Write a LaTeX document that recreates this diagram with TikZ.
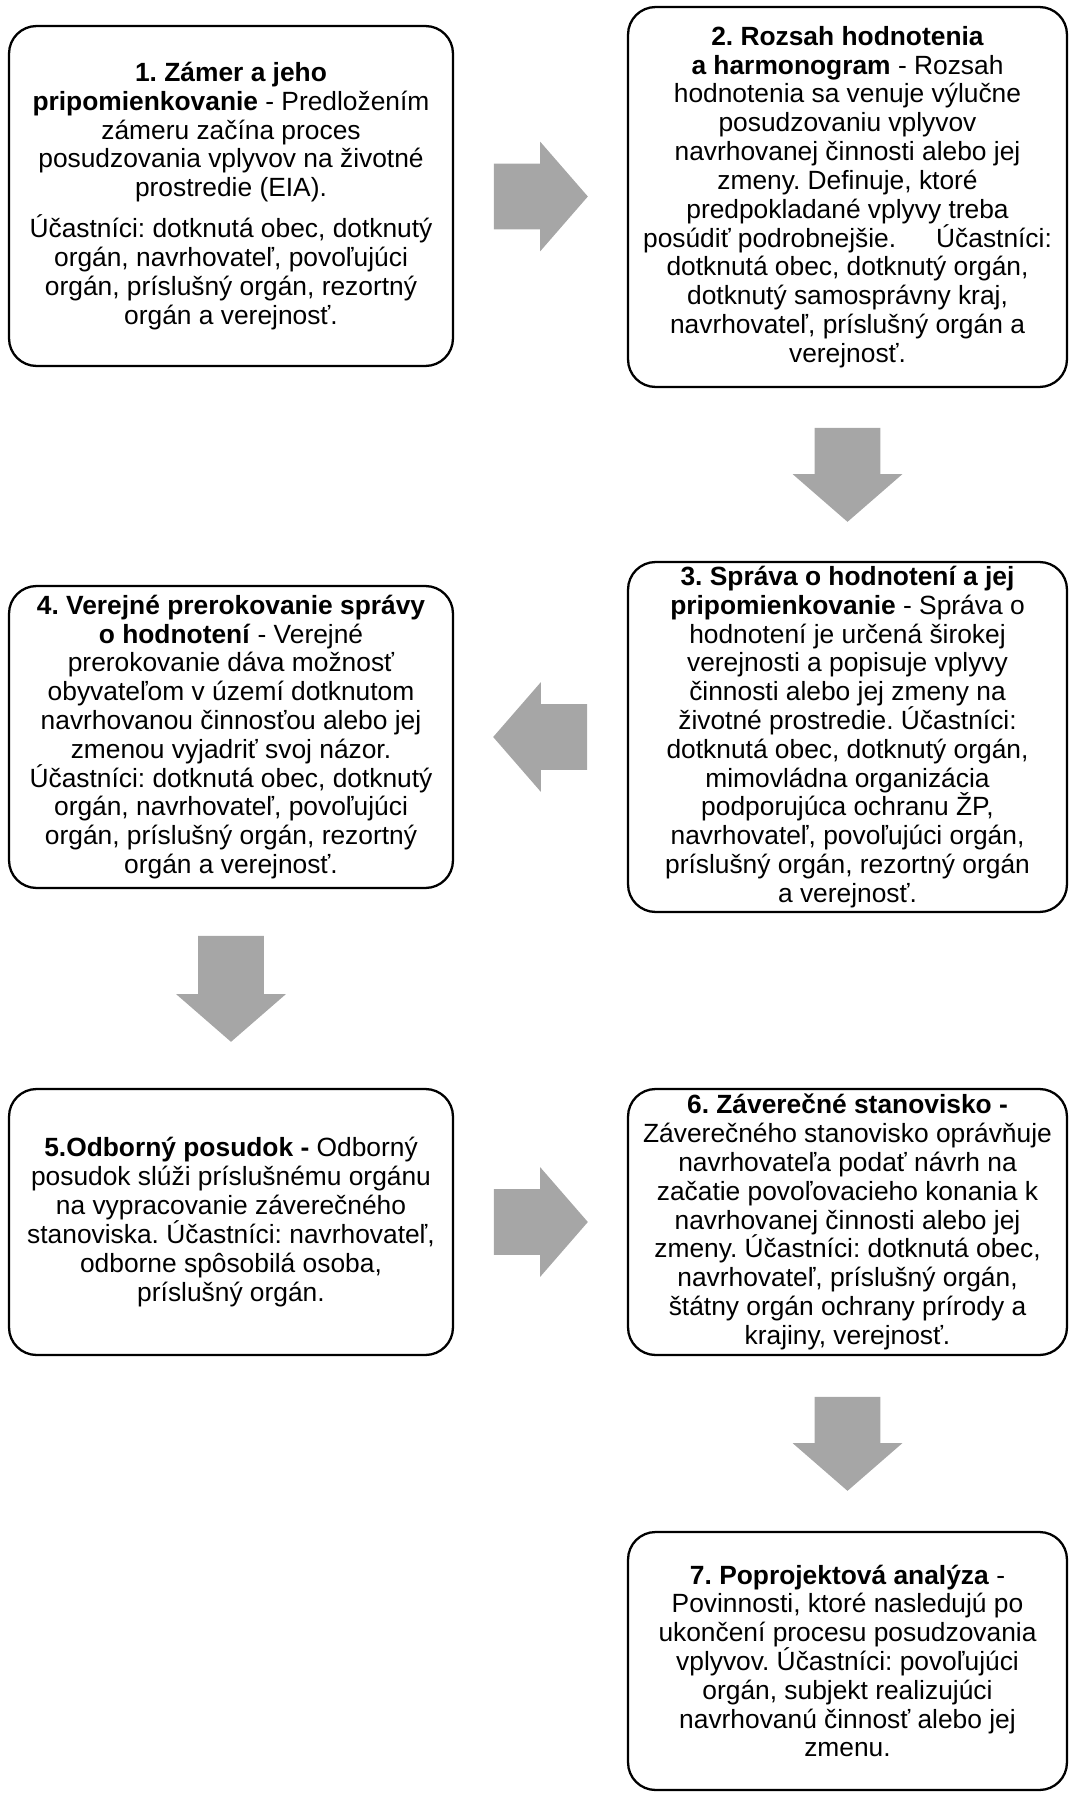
\documentclass[tikz,border=0pt]{standalone}
\usepackage{fontspec}
\setmainfont{Liberation Sans}
\usetikzlibrary{shapes.arrows, calc}

\definecolor{arrowgray}{RGB}{166,166,166}

\begin{document}
\frenchspacing
\begin{tikzpicture}[x = 0.02cm, y = -0.02cm,
	box/.style = {draw, rectangle, rounded corners = 0.55cm, line width = 1.3pt, align = center, inner sep = 0pt, font = \fontsize{15}{16.4}\selectfont},
	bigarrow/.style = {single arrow, anchor = tail, fill = arrowgray, inner xsep = 0pt, inner ysep = 0.65cm, minimum height = 1.88cm, minimum width = 2.18cm, single arrow head extend = 0.44cm, single arrow tip angle = 98}]

\useasboundingbox (0,0) rectangle (1069,1794);

% left column
\node[box, minimum width = 8.88cm, minimum height = 6.8cm] (Zamer) at (231, 196) {\textbf{1. Zámer a jeho}\\
	\textbf{pripomienkovanie} - Predložením\\
	zámeru začína proces\\
	posudzovania vplyvov na životné\\
	prostredie (EIA).\\[7pt]
	Účastníci: dotknutá obec, dotknutý\\
	orgán, navrhovateľ, povoľujúci\\
	orgán, príslušný orgán, rezortný\\
	orgán a verejnosť.};

\node[box, minimum width = 8.88cm, minimum height = 6.04cm] (Prerokovanie) at (231, 737) {\textbf{4. Verejné prerokovanie správy}\\
	\textbf{o hodnotení} - Verejné\\
	prerokovanie dáva možnosť\\
	obyvateľom v území dotknutom\\
	navrhovanou činnosťou alebo jej\\
	zmenou vyjadriť svoj názor.\\
	Účastníci: dotknutá obec, dotknutý\\
	orgán, navrhovateľ, povoľujúci\\
	orgán, príslušný orgán, rezortný\\
	orgán a verejnosť.};

\node[box, minimum width = 8.88cm, minimum height = 5.32cm] (Posudok) at (231, 1222) {\textbf{5.Odborný posudok -} Odborný\\
	posudok slúži príslušnému orgánu\\
	na vypracovanie záverečného\\
	stanoviska. Účastníci: navrhovateľ,\\
	odborne spôsobilá osoba,\\
	príslušný orgán.};

% right column
\node[box, minimum width = 8.78cm, minimum height = 7.6cm] (Rozsah) at (847.5, 197) {\textbf{2. Rozsah hodnotenia}\\
	\textbf{a harmonogram} - Rozsah\\
	hodnotenia sa venuje výlučne\\
	posudzovaniu vplyvov\\
	navrhovanej činnosti alebo jej\\
	zmeny. Definuje, ktoré\\
	predpokladané vplyvy treba\\
	posúdiť podrobnejšie.\hspace{0.8cm}Účastníci:\\
	dotknutá obec, dotknutý orgán,\\
	dotknutý samosprávny kraj,\\
	navrhovateľ, príslušný orgán a\\
	verejnosť.};

\node[box, minimum width = 8.78cm, minimum height = 7cm] (Sprava) at (847.5, 737) {\textbf{3. Správa o hodnotení a jej}\\
	\textbf{pripomienkovanie} - Správa o\\
	hodnotení je určená širokej\\
	verejnosti a popisuje vplyvy\\
	činnosti alebo jej zmeny na\\
	životné prostredie. Účastníci:\\
	dotknutá obec, dotknutý orgán,\\
	mimovládna organizácia\\
	podporujúca ochranu ŽP,\\
	navrhovateľ, povoľujúci orgán,\\
	príslušný orgán, rezortný orgán\\
	a verejnosť.};

\node[box, minimum width = 8.78cm, minimum height = 5.32cm] (Stanovisko) at (847.5, 1222) {\textbf{6. Záverečné stanovisko -}\\
	Záverečného stanovisko oprávňuje\\
	navrhovateľa podať návrh na\\
	začatie povoľovacieho konania k\\
	navrhovanej činnosti alebo jej\\
	zmeny. Účastníci: dotknutá obec,\\
	navrhovateľ, príslušný orgán,\\
	štátny orgán ochrany prírody a\\
	krajiny, verejnosť.};

\node[box, minimum width = 8.78cm, minimum height = 5.16cm] (Analyza) at (847.5, 1661) {\textbf{7. Poprojektová analýza} -\\
	Povinnosti, ktoré nasledujú po\\
	ukončení procesu posudzovania\\
	vplyvov. Účastníci: povoľujúci\\
	orgán, subjekt realizujúci\\
	navrhovanú činnosť alebo jej\\
	zmenu.};

% block arrows, tail half a length before the gap's middle
\node[bigarrow] (Arr12) at ($(Zamer.east)!0.5!(Rozsah.west) + (-47, 0)$) {};
\node[bigarrow, rotate = -90] (Arr23) at ($(Rozsah.south)!0.5!(Sprava.north) + (0, -47)$) {};
\node[bigarrow, rotate = 180] (Arr34) at ($(Sprava.west)!0.5!(Prerokovanie.east) + (47, 0)$) {};
\node[bigarrow, rotate = -90, minimum height = 2.12cm] (Arr45) at ($(Prerokovanie.south)!0.5!(Posudok.north) + (0, -53)$) {};
\node[bigarrow] (Arr56) at ($(Posudok.east)!0.5!(Stanovisko.west) + (-47, 0)$) {};
\node[bigarrow, rotate = -90] (Arr67) at ($(Stanovisko.south)!0.5!(Analyza.north) + (0, -47)$) {};

\end{tikzpicture}
\end{document}
